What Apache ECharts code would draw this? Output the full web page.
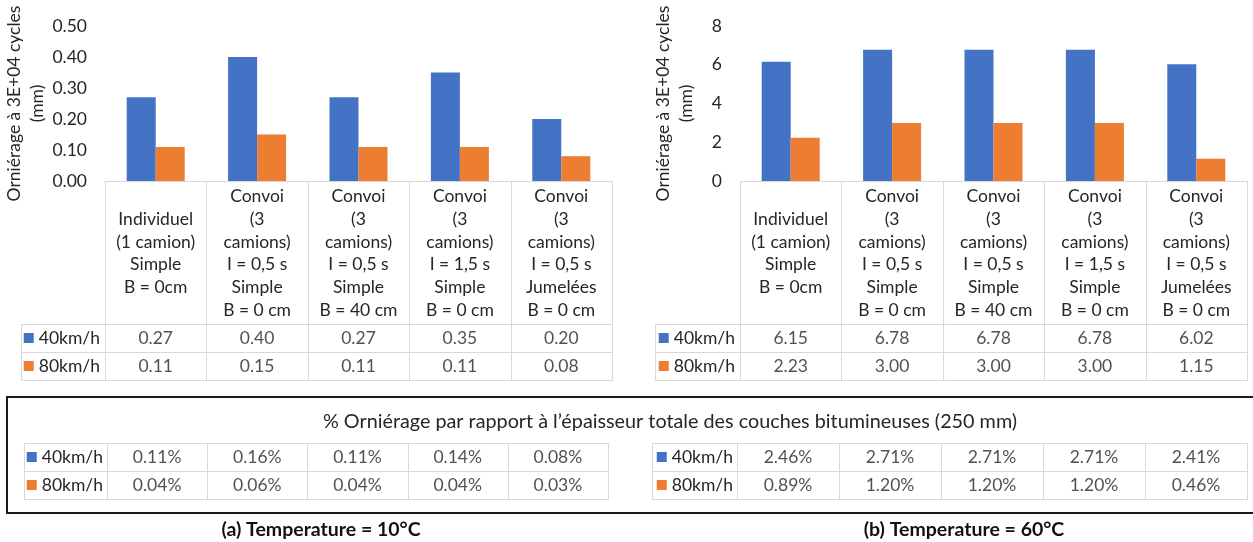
<!DOCTYPE html>
<html>
<head>
<meta charset="utf-8">
<script src="https://cdn.jsdelivr.net/npm/echarts@6/dist/echarts.min.js"></script>
<style>
html,body{margin:0;padding:0;background:#fff;}
#c{width:1253px;height:542px;}
</style>
</head>
<body>
<div id="c"></div>
<script>
// ---------- DATA ----------
const categories = [
  'Individuel\n(1 camion)\nSimple\nB = 0cm',
  'Convoi\n(3\ncamions)\nI = 0,5 s\nSimple\nB = 0 cm',
  'Convoi\n(3\ncamions)\nI = 0,5 s\nSimple\nB = 40 cm',
  'Convoi\n(3\ncamions)\nI = 1,5 s\nSimple\nB = 0 cm',
  'Convoi\n(3\ncamions)\nI = 0,5 s\nJumelées\nB = 0 cm'
];
const seriesNames = ['40km/h', '80km/h'];
const rut10_40 = [0.27, 0.40, 0.27, 0.35, 0.20];
const rut10_80 = [0.11, 0.15, 0.11, 0.11, 0.08];
const rut60_40 = [6.15, 6.78, 6.78, 6.78, 6.02];
const rut60_80 = [2.23, 3.00, 3.00, 3.00, 1.15];
const pct10_40 = [0.11, 0.16, 0.11, 0.14, 0.08];
const pct10_80 = [0.04, 0.06, 0.04, 0.04, 0.03];
const pct60_40 = [2.46, 2.71, 2.71, 2.71, 2.41];
const pct60_80 = [0.89, 1.20, 1.20, 1.20, 0.46];
const ticks10 = [0, 0.1, 0.2, 0.3, 0.4, 0.5];
const ticks60 = [0, 2, 4, 6, 8];
const yAxisName = 'Orniérage à 3E+04 cycles\n(mm)';
const pctTitle = '% Orniérage par rapport à l’épaisseur totale des couches bitumineuses (250 mm)';
const captions = ['(a) Temperature = 10°C', '(b) Temperature = 60°C'];

// ---------- STYLE / LAYOUT ----------
const F = 'Lato, "Noto Sans", sans-serif';
const FS = 17.5;
const TXT = '#262626';
const GRIDC = '#d9d9d9';
const COLORS = ['#4472C4', '#ED7D31'];

const LA = {legendLeft: 21, left: 105, width: 507, top: 26, zero: 181, rowTop: 324, rowH: 28, nameGap: 48};
const LB = {legendLeft: 655, left: 740, width: 507, top: 26, zero: 181, rowTop: 324, rowH: 28, nameGap: 42};
const PA = {legendLeft: 24, left: 107, width: 501, top: 443, rowH: 28};
const PB = {legendLeft: 652, left: 737, width: 510, top: 443, rowH: 28};

const chart = echarts.init(document.getElementById('c'), null, {renderer: 'canvas'});

const grids = [
  {left: LA.left, top: LA.top, width: LA.width, height: LA.zero - LA.top},
  {left: LB.left, top: LB.top, width: LB.width, height: LB.zero - LB.top},
  {left: LA.left, top: LA.rowTop, width: LA.width, height: 2 * LA.rowH},
  {left: LB.left, top: LB.rowTop, width: LB.width, height: 2 * LB.rowH},
  {left: PA.left, top: PA.top, width: PA.width, height: 2 * PA.rowH},
  {left: PB.left, top: PB.top, width: PB.width, height: 2 * PB.rowH}
];

function catAxis(gi, showLabels) {
  return {
    type: 'category', gridIndex: gi, data: categories,
    axisLine: {show: showLabels, lineStyle: {color: GRIDC, width: 1}},
    axisTick: {show: false},
    axisLabel: showLabels ? {
      show: true, interval: 0, margin: 72.5, verticalAlign: 'middle',
      fontFamily: F, fontSize: FS, lineHeight: 22.7, color: TXT, align: 'center'
    } : {show: false},
    splitLine: {show: false}
  };
}
function valAxis(gi, ticks, fmt, gap) {
  return {
    type: 'value', gridIndex: gi, min: ticks[0], max: ticks[ticks.length - 1],
    interval: ticks[1] - ticks[0],
    name: yAxisName, nameLocation: 'middle', nameRotate: 90, nameGap: gap,
    nameTextStyle: {fontFamily: F, fontSize: FS, lineHeight: 23, color: TXT, align: 'center'},
    axisLine: {show: false}, axisTick: {show: false}, splitLine: {show: false},
    axisLabel: {fontFamily: F, fontSize: FS, color: TXT, margin: 18, formatter: fmt}
  };
}
function rowAxis(gi, margin) {
  return {
    type: 'category', gridIndex: gi, data: seriesNames, inverse: true,
    axisLine: {show: false}, axisTick: {show: false}, splitLine: {show: false},
    axisLabel: {
      margin: margin,
      formatter: (v, i) => (i === 0 ? '{b|}' : '{o|}') + '{t|' + v + '}',
      rich: {
        b: {width: 10, height: 10, backgroundColor: COLORS[0]},
        o: {width: 10, height: 10, backgroundColor: COLORS[1]},
        t: {fontFamily: F, fontSize: FS, color: TXT, padding: [0, 0, 0, 5]}
      }
    }
  };
}
function tableSeries(gi, rows, fmt) {
  const data = [];
  rows.forEach((arr, r) => arr.forEach((v, c) => data.push([c, r, v])));
  return {
    type: 'scatter', xAxisIndex: gi, yAxisIndex: gi, data: data,
    symbolSize: 1, itemStyle: {color: 'rgba(0,0,0,0)'}, silent: true,
    label: {show: true, position: 'inside', formatter: p => fmt(p.value[2]),
      fontFamily: F, fontSize: FS, color: TXT}
  };
}
function bar(gi, name, data, color) {
  return {type: 'bar', name: name, xAxisIndex: gi, yAxisIndex: gi, data: data,
    barWidth: 29, barGap: '0%', itemStyle: {color: color}};
}

// table lines
function line(x1, y1, x2, y2) {
  return {type: 'line', silent: true,
    shape: {x1: x1, y1: y1, x2: x2, y2: y2},
    style: {stroke: GRIDC, lineWidth: 1}};
}
function chartTableLines(L) {
  const out = [];
  const bottom = L.rowTop + 2 * L.rowH;
  for (let i = 0; i <= categories.length; i++) {
    const x = Math.round(L.left + i * L.width / categories.length) + 0.5;
    out.push(line(x, L.zero, x, bottom));
  }
  out.push(line(L.legendLeft + 0.5, L.rowTop, L.legendLeft + 0.5, bottom));
  for (let k = 0; k <= 2; k++) {
    const y = L.rowTop + k * L.rowH + 0.5;
    out.push(line(L.legendLeft, y, L.left + L.width + 1, y));
  }
  return out;
}
function pctTableLines(P) {
  const out = [];
  const bottom = P.top + 2 * P.rowH;
  for (let i = 0; i <= categories.length; i++) {
    const x = Math.round(P.left + i * P.width / categories.length) + 0.5;
    out.push(line(x, P.top, x, bottom));
  }
  out.push(line(P.legendLeft + 0.5, P.top, P.legendLeft + 0.5, bottom));
  for (let k = 0; k <= 2; k++) {
    const y = P.top + k * P.rowH + 0.5;
    out.push(line(P.legendLeft, y, P.left + P.width + 1, y));
  }
  return out;
}

const graphics = [].concat(
  chartTableLines(LA), chartTableLines(LB), pctTableLines(PA), pctTableLines(PB),
  [
    {type: 'rect', silent: true, shape: {x: 7, y: 397, width: 1260, height: 116},
      style: {fill: 'none', stroke: '#1a1a1a', lineWidth: 2}},
    {type: 'text', silent: true, x: 670, y: 422,
      style: {text: pctTitle, align: 'center', verticalAlign: 'middle',
        font: '19.8px ' + F, fill: TXT}},
    {type: 'text', silent: true, x: 321, y: 530,
      style: {text: captions[0], align: 'center', verticalAlign: 'middle',
        font: 'bold 19.5px ' + F, fill: '#111'}},
    {type: 'text', silent: true, x: 964, y: 530,
      style: {text: captions[1], align: 'center', verticalAlign: 'middle',
        font: 'bold 19.5px ' + F, fill: '#111'}}
  ]
);

chart.setOption({
  animation: false,
  grid: grids,
  xAxis: [catAxis(0, true), catAxis(1, true), catAxis(2, false), catAxis(3, false), catAxis(4, false), catAxis(5, false)],
  yAxis: [
    valAxis(0, ticks10, v => v.toFixed(2), LA.nameGap),
    valAxis(1, ticks60, v => String(v), LB.nameGap),
    rowAxis(2, 5), rowAxis(3, 5), rowAxis(4, 4), rowAxis(5, 4)
  ],
  series: [
    bar(0, seriesNames[0], rut10_40, COLORS[0]),
    bar(0, seriesNames[1], rut10_80, COLORS[1]),
    bar(1, seriesNames[0], rut60_40, COLORS[0]),
    bar(1, seriesNames[1], rut60_80, COLORS[1]),
    tableSeries(2, [rut10_40, rut10_80], v => v.toFixed(2)),
    tableSeries(3, [rut60_40, rut60_80], v => v.toFixed(2)),
    tableSeries(4, [pct10_40, pct10_80], v => v.toFixed(2) + '%'),
    tableSeries(5, [pct60_40, pct60_80], v => v.toFixed(2) + '%')
  ],
  graphic: graphics
});
</script>
</body>
</html>
